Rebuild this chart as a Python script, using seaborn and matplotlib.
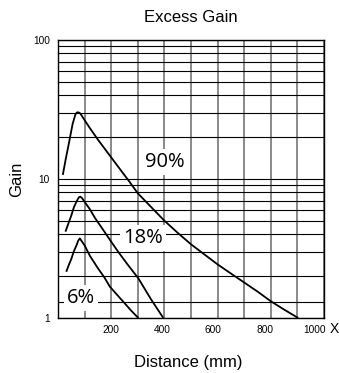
import numpy as np
import pandas as pd
import matplotlib
matplotlib.use("Agg")
import matplotlib.pyplot as plt
import matplotlib.transforms as mtransforms
from matplotlib.ticker import FixedLocator, NullFormatter
import seaborn as sns

# ---- data ----
dist_90 = [18, 30, 40, 55, 65, 70, 74, 80, 85, 100, 120, 150, 200, 250, 268, 300,
           400, 450, 500, 550, 600, 650, 700, 750, 800, 850, 903]
gain_90 = [10.7, 14.2, 17.7, 24.9, 29.0, 30.0, 30.2, 30.0, 29.4, 26.5, 23.2, 19.2, 14.3, 10.65, 9.6, 7.89,
           5.01, 4.1, 3.39, 2.87, 2.43, 2.09, 1.80, 1.55, 1.32, 1.15, 1.0]

dist_18 = [28, 40, 50, 60, 70, 76, 80, 84, 90, 100, 120, 140, 170, 200, 226, 260, 302, 350, 396]
gain_18 = [4.18, 4.84, 5.46, 6.28, 6.9, 7.25, 7.42, 7.46, 7.3, 6.85, 6.05, 5.21, 4.3, 3.54, 3.0, 2.45, 1.93, 1.36, 1.0]

dist_6 = [31, 40, 50, 60, 70, 76, 82, 90, 100, 120, 150, 175, 195, 250, 275, 302]
gain_6 = [2.15, 2.39, 2.66, 3.03, 3.35, 3.6, 3.74, 3.55, 3.33, 2.8, 2.28, 1.95, 1.68, 1.28, 1.13, 1.0]

series_names = ["90%", "18%", "6%"]
label_dist = [402, 320, 88]
label_gain = [13.3, 3.76, 1.40]

x_major = [200, 400, 600, 800, 1000]
x_minor = [100, 300, 500, 700, 900]
y_major = [1, 10, 100]
y_minor = [2, 3, 4, 5, 6, 7, 8, 9, 20, 30, 40, 50, 60, 70, 80, 90, 1.3]
x_label_shift_px = [-0.7, -1.9, -4.6, -5.5, -9.0]

frames = []
for name, d, g in zip(series_names, [dist_90, dist_18, dist_6], [gain_90, gain_18, gain_6]):
    frames.append(pd.DataFrame({"Distance": d, "Gain": g, "Series": name}))
df = pd.concat(frames, ignore_index=True)

sns.set_style("white")
plt.rcParams["font.family"] = ["Liberation Sans", "DejaVu Sans"]
plt.rcParams["text.color"] = "black"
plt.rcParams["xtick.color"] = "black"
plt.rcParams["ytick.color"] = "black"
plt.rcParams["axes.labelcolor"] = "black"

fig = plt.figure(figsize=(3.39, 3.73), dpi=100)
ax = fig.add_axes([58 / 339, 1 - 318 / 373, 266 / 339, 278 / 373])

sns.lineplot(data=df, x="Distance", y="Gain", hue="Series", palette=["black"] * 3,
             estimator=None, sort=False, legend=False, lw=1.3, ax=ax, zorder=4)
for ln in ax.lines:
    ln.set_solid_joinstyle("round")
    ln.set_solid_capstyle("butt")

ax.set_yscale("log")
ax.set_xlim(0, 1000)
ax.set_ylim(1, 100)

ax.xaxis.set_major_locator(FixedLocator(x_major))
ax.xaxis.set_minor_locator(FixedLocator(x_minor))
ax.set_xticklabels([str(v) for v in x_major])
ax.yaxis.set_major_locator(FixedLocator(y_major))
ax.yaxis.set_minor_locator(FixedLocator(y_minor))
ax.set_yticklabels([str(v) for v in y_major])
ax.yaxis.set_minor_formatter(NullFormatter())
ax.xaxis.set_minor_formatter(NullFormatter())

ax.tick_params(axis="both", which="both", length=0, labelcolor="black")
ax.tick_params(axis="x", labelsize=7.3, pad=5)
ax.tick_params(axis="y", labelsize=7.3, pad=6)

for lbl, dx in zip(ax.get_xticklabels(), x_label_shift_px):
    lbl.set_transform(lbl.get_transform() +
                      mtransforms.ScaledTranslation(dx / 100, 0, fig.dpi_scale_trans))

ax.yaxis.grid(True, which="both", color="black", lw=0.8, zorder=1)
ax.xaxis.grid(True, which="both", color="#6a6a6a", lw=1.1, zorder=1)
ax.set_axisbelow(True)
for s in ax.spines.values():
    s.set_color("black")
    s.set_linewidth(1.0)

ax.set_xlabel("")
ax.set_ylabel("")

for name, xd, yg in zip(series_names, label_dist, label_gain):
    ax.text(xd, yg, name, ha="center", va="center", fontsize=14.5, color="black",
            family=["Open Sans", "DejaVu Sans"], zorder=5,
            bbox=dict(boxstyle="square,pad=0.15", fc="white", ec="none"))

fig.text(191 / 339, 1 - 21.7 / 373, "Excess Gain", ha="center", va="baseline", fontsize=12, color="black")
fig.text(188 / 339, 1 - 366.7 / 373, "Distance (mm)", ha="center", va="baseline", fontsize=12, color="black")
fig.text(16.7 / 339, 1 - 179 / 373, "Gain", ha="center", va="center", rotation=90, fontsize=12, color="black")
fig.text(330 / 339, 1 - 333.3 / 373, "X", ha="left", va="baseline", fontsize=10, color="black")

fig.savefig("out.png", dpi=100)
